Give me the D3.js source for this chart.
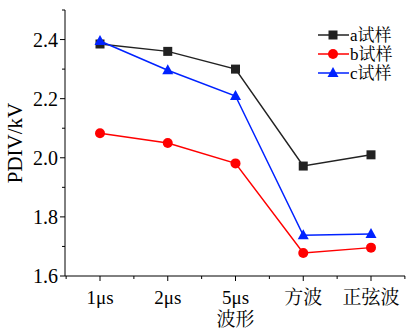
<!DOCTYPE html>
<html>
<head>
    <style>
        body { margin: 0; background: #fff; }
        text { font-family: "Liberation Serif", "Noto Serif CJK SC", "Noto Sans CJK SC", serif; fill: #000; }
    </style>
    <script src="https://d3js.org/d3.v7.min.js"></script>
</head>
<body>
    <svg width="406" height="331"></svg>
    <script>
        // data
        var categories = ["1μs", "2μs", "5μs", "方波", "正弦波"];
        var seriesA = [2.385, 2.360, 2.300, 1.972, 2.010];
        var seriesB = [2.083, 2.050, 1.981, 1.678, 1.696];
        var seriesC = [2.395, 2.296, 2.209, 1.738, 1.742];
        var seriesNames = ["a试样", "b试样", "c试样"];
        var yTicks = [1.6, 1.8, 2.0, 2.2, 2.4];

        var svg = d3.select("svg");
        var mLeft = 65, mRight = 405, mTop = 10, mBottom = 276;

        var x = d3.scalePoint().domain(categories).range([100, 371]);
        var step = x.step();
        var y = d3.scaleLinear().domain([1.6, 2.5]).range([mBottom, mTop]);

        var colors = ["#222222", "#ff0000", "#0022ff"];
        var series = [seriesA, seriesB, seriesC];

        // axes
        svg.append("line").attr("x1", mLeft).attr("x2", mLeft).attr("y1", mTop).attr("y2", mBottom)
            .attr("stroke", "#000").attr("stroke-width", 1);
        svg.append("line").attr("x1", mLeft).attr("x2", mRight).attr("y1", mBottom).attr("y2", mBottom)
            .attr("stroke", "#000").attr("stroke-width", 1);

        // y ticks (major + minor)
        d3.range(1.6, 2.51, 0.1).forEach(function(v) {
            var major = yTicks.some(function(t) { return Math.abs(t - v) < 1e-6; });
            svg.append("line").attr("x1", mLeft).attr("x2", mLeft - (major ? 5 : 3))
                .attr("y1", y(v)).attr("y2", y(v)).attr("stroke", "#000");
        });
        yTicks.forEach(function(t) {
            svg.append("text").attr("x", mLeft - 7).attr("y", y(t) + 7)
                .attr("text-anchor", "end").attr("font-size", 20).text(t.toFixed(1));
        });

        // x ticks
        categories.forEach(function(c) {
            svg.append("line").attr("x1", x(c)).attr("x2", x(c)).attr("y1", mBottom).attr("y2", mBottom + 5)
                .attr("stroke", "#000");
            svg.append("line").attr("x1", x(c) + step / 2).attr("x2", x(c) + step / 2)
                .attr("y1", mBottom).attr("y2", mBottom + 3).attr("stroke", "#000");
            svg.append("text").attr("x", x(c)).attr("y", mBottom + 28)
                .attr("text-anchor", "middle").attr("font-size", 19).text(c);
        });
        svg.append("line").attr("x1", x(categories[0]) - step / 2).attr("x2", x(categories[0]) - step / 2)
            .attr("y1", mBottom).attr("y2", mBottom + 3).attr("stroke", "#000");

        // axis titles
        svg.append("text").attr("x", x(categories[2])).attr("y", 326)
            .attr("text-anchor", "middle").attr("font-size", 19).text("波形");
        svg.append("text").attr("transform", "translate(22," + 143 + ") rotate(-90)")
            .attr("text-anchor", "middle").attr("font-size", 21).text("PDIV/kV");

        var line = d3.line().x(function(d, i) { return x(categories[i]); }).y(function(d) { return y(d); });

        function marker(g, k, cx, cy, col) {
            if (k === 0) {
                g.append("rect").attr("x", cx - 4.5).attr("y", cy - 4.5).attr("width", 9).attr("height", 9).attr("fill", col);
            } else if (k === 1) {
                g.append("circle").attr("cx", cx).attr("cy", cy).attr("r", 5).attr("fill", col);
            } else {
                g.append("path").attr("d", "M" + cx + "," + (cy - 6) + "L" + (cx + 5.5) + "," + (cy + 4) + "L" + (cx - 5.5) + "," + (cy + 4) + "Z")
                    .attr("fill", col);
            }
        }

        series.forEach(function(s, k) {
            var g = svg.append("g");
            g.append("path").attr("d", line(s)).attr("fill", "none")
                .attr("stroke", colors[k]).attr("stroke-width", 1.5);
            s.forEach(function(v, i) { marker(g, k, x(categories[i]), y(v), colors[k]); });
        });

        // legend
        seriesNames.forEach(function(n, k) {
            var ly = 35 + k * 19;
            var g = svg.append("g");
            g.append("line").attr("x1", 318).attr("x2", 349).attr("y1", ly).attr("y2", ly)
                .attr("stroke", colors[k]).attr("stroke-width", 1.5);
            marker(g, k, 333, ly, colors[k]);
            g.append("text").attr("x", 350).attr("y", ly + 6).attr("font-size", 17).text(n);
        });
    </script>
</body>
</html>
